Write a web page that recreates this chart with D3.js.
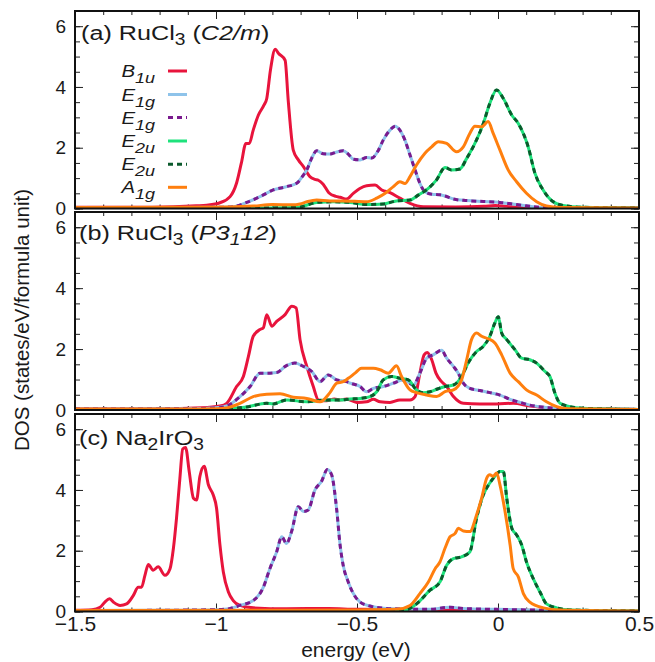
<!DOCTYPE html>
<html><head><meta charset="utf-8">
<script src="https://cdn.jsdelivr.net/npm/d3@7"></script>
<style>
body{margin:0;background:#fff}
svg{display:block}
text{font-family:"Liberation Sans",Arial,Helvetica,sans-serif;fill:#1a1a1a}
</style>
</head><body>
<svg id="chart" width="655" height="662"></svg>
<script>
// ---------------- DATA ----------------
const energyDomain = [-1.5, 0.5];
const dosDomain = [0, 6.5];
const energyTicks = [-1.5, -1, -0.5, 0, 0.5];
const energyTickLabels = ["\u22121.5", "\u22121", "\u22120.5", "0", "0.5"];
const dosTicks = [0, 2, 4, 6];
const dosTickLabels = ["0", "2", "4", "6"];
const seriesNames = ["B1u", "E1g", "E1g", "E2u", "E2u", "A1g"];

// Panel (a) RuCl3 C2/m
const a_B1u = [[-1.5,0.04],[-1.3,0.04],[-1.15,0.06],[-1.07,0.09],[-1.033,0.11],[-0.986,0.19],[-0.95,0.39],[-0.927,0.84],[-0.91,1.5],[-0.894,2.14],[-0.882,2.14],[-0.868,2.58],[-0.85,3.07],[-0.83,3.4],[-0.82,3.62],[-0.807,4.55],[-0.79,5.24],[-0.778,5.1],[-0.755,4.88],[-0.744,3.57],[-0.726,1.92],[-0.708,1.6],[-0.69,1.38],[-0.667,1.05],[-0.649,0.96],[-0.637,0.93],[-0.62,0.8],[-0.6,0.52],[-0.575,0.4],[-0.56,0.37],[-0.537,0.31],[-0.513,0.5],[-0.49,0.66],[-0.466,0.75],[-0.436,0.77],[-0.412,0.61],[-0.383,0.52],[-0.348,0.34],[-0.312,0.17],[-0.265,0.06],[-0.15,0.05],[-0.05,0.07],[-0.01,0.1],[0.03,0.07],[0.1,0.03],[0.5,0.02]];
const a_E1g = [[-1.5,0.03],[-1.2,0.03],[-1.0,0.04],[-0.939,0.06],[-0.891,0.2],[-0.844,0.39],[-0.797,0.61],[-0.749,0.72],[-0.714,0.83],[-0.69,1.1],[-0.678,1.27],[-0.661,1.65],[-0.643,1.9],[-0.62,1.8],[-0.596,1.79],[-0.572,1.86],[-0.549,1.9],[-0.531,1.79],[-0.513,1.62],[-0.489,1.6],[-0.466,1.68],[-0.448,1.66],[-0.424,1.92],[-0.407,2.25],[-0.383,2.58],[-0.365,2.71],[-0.348,2.58],[-0.33,2.25],[-0.312,1.76],[-0.294,1.27],[-0.277,0.83],[-0.259,0.55],[-0.235,0.47],[-0.206,0.45],[-0.188,0.41],[-0.158,0.31],[-0.111,0.26],[-0.052,0.23],[0.007,0.2],[0.066,0.13],[0.125,0.06],[0.184,0.03],[0.5,0.02]];
const a_E2u = [[-1.5,0.02],[-0.8,0.02],[-0.73,0.03],[-0.702,0.05],[-0.643,0.2],[-0.584,0.22],[-0.525,0.2],[-0.466,0.13],[-0.407,0.15],[-0.36,0.25],[-0.312,0.28],[-0.283,0.44],[-0.247,0.66],[-0.218,0.94],[-0.188,1.35],[-0.165,1.27],[-0.135,1.3],[-0.111,1.65],[-0.082,2.14],[-0.052,2.8],[-0.029,3.46],[-0.005,3.9],[0.019,3.62],[0.049,3.07],[0.072,2.8],[0.107,2.03],[0.131,1.16],[0.16,0.61],[0.196,0.22],[0.231,0.1],[0.3,0.04],[0.5,0.02]];
const a_A1g = [[-1.5,0.03],[-1.1,0.04],[-0.95,0.05],[-0.868,0.08],[-0.8,0.13],[-0.73,0.12],[-0.702,0.15],[-0.678,0.22],[-0.643,0.28],[-0.596,0.25],[-0.55,0.25],[-0.466,0.22],[-0.43,0.34],[-0.4,0.5],[-0.371,0.72],[-0.348,0.88],[-0.33,0.82],[-0.312,1.05],[-0.289,1.43],[-0.259,1.82],[-0.235,2.03],[-0.212,2.2],[-0.182,2.14],[-0.147,1.87],[-0.123,2.03],[-0.1,2.47],[-0.082,2.71],[-0.058,2.69],[-0.035,2.86],[-0.017,2.47],[0.007,1.92],[0.036,1.27],[0.066,0.88],[0.101,0.5],[0.137,0.22],[0.172,0.08],[0.22,0.03],[0.5,0.02]];

// Panel (b) RuCl3 P3112
const b_B1u = [[-1.5,0.04],[-1.2,0.04],[-1.05,0.07],[-0.986,0.13],[-0.962,0.22],[-0.927,0.77],[-0.903,1.1],[-0.885,1.76],[-0.868,2.42],[-0.844,2.64],[-0.832,2.7],[-0.82,3.13],[-0.802,2.75],[-0.785,2.91],[-0.755,3.13],[-0.731,3.41],[-0.716,3.35],[-0.702,2.31],[-0.678,1.43],[-0.655,0.77],[-0.637,0.33],[-0.608,0.3],[-0.58,0.36],[-0.56,0.33],[-0.537,0.36],[-0.501,0.25],[-0.466,0.27],[-0.442,0.35],[-0.418,0.27],[-0.383,0.25],[-0.348,0.33],[-0.312,0.33],[-0.294,0.44],[-0.277,1.21],[-0.262,1.81],[-0.251,1.89],[-0.235,1.65],[-0.22,1.21],[-0.2,0.93],[-0.182,0.77],[-0.158,0.44],[-0.123,0.22],[-0.064,0.2],[-0.005,0.2],[0.054,0.22],[0.113,0.13],[0.173,0.08],[0.25,0.03],[0.5,0.02]];
const b_E1g = [[-1.5,0.03],[-1.1,0.04],[-1.0,0.07],[-0.962,0.13],[-0.915,0.44],[-0.879,0.77],[-0.844,1.21],[-0.82,1.21],[-0.785,1.23],[-0.75,1.46],[-0.72,1.54],[-0.69,1.43],[-0.661,1.27],[-0.631,0.93],[-0.602,1.15],[-0.572,0.99],[-0.537,0.93],[-0.524,0.88],[-0.489,0.77],[-0.466,0.6],[-0.442,0.71],[-0.407,0.77],[-0.371,0.88],[-0.336,0.99],[-0.3,0.82],[-0.277,1.21],[-0.253,1.7],[-0.23,1.81],[-0.2,1.96],[-0.182,1.7],[-0.158,1.43],[-0.141,1.21],[-0.123,0.88],[-0.1,0.71],[-0.064,0.64],[-0.029,0.57],[0.007,0.49],[0.043,0.35],[0.078,0.25],[0.113,0.16],[0.161,0.09],[0.25,0.04],[0.5,0.02]];
const b_E2u = [[-1.5,0.02],[-1.0,0.02],[-0.94,0.05],[-0.891,0.1],[-0.82,0.22],[-0.797,0.2],[-0.75,0.33],[-0.678,0.27],[-0.608,0.33],[-0.56,0.33],[-0.525,0.36],[-0.489,0.38],[-0.454,0.44],[-0.43,0.6],[-0.407,0.99],[-0.377,1.1],[-0.348,1.04],[-0.318,0.99],[-0.289,0.66],[-0.265,0.57],[-0.241,0.6],[-0.218,0.68],[-0.188,0.77],[-0.158,0.82],[-0.129,1.1],[-0.106,1.54],[-0.076,1.92],[-0.052,2.09],[-0.029,2.42],[-0.011,2.86],[0.001,3.06],[0.013,2.53],[0.031,2.31],[0.06,1.98],[0.084,1.7],[0.113,1.65],[0.137,1.54],[0.166,1.27],[0.184,1.1],[0.202,0.55],[0.22,0.22],[0.255,0.11],[0.3,0.06],[0.5,0.02]];
const b_A1g = [[-1.5,0.03],[-1.1,0.03],[-1.0,0.04],[-0.962,0.07],[-0.915,0.22],[-0.868,0.44],[-0.82,0.52],[-0.773,0.53],[-0.726,0.42],[-0.678,0.38],[-0.631,0.27],[-0.596,0.57],[-0.572,0.88],[-0.549,0.93],[-0.531,1.04],[-0.507,1.21],[-0.484,1.37],[-0.442,1.37],[-0.418,1.32],[-0.389,1.21],[-0.36,1.45],[-0.342,1.1],[-0.312,0.66],[-0.289,0.57],[-0.253,0.49],[-0.218,0.44],[-0.188,0.6],[-0.158,0.66],[-0.129,0.99],[-0.111,1.65],[-0.094,2.31],[-0.076,2.53],[-0.058,2.42],[-0.035,2.34],[-0.011,2.2],[0.013,1.81],[0.043,1.21],[0.072,0.93],[0.101,0.66],[0.137,0.49],[0.172,0.27],[0.208,0.11],[0.25,0.04],[0.5,0.02]];

// Panel (c) Na2IrO3
const c_B1u = [[-1.5,0.04],[-1.44,0.06],[-1.411,0.14],[-1.394,0.31],[-1.378,0.42],[-1.364,0.31],[-1.34,0.2],[-1.317,0.25],[-1.293,0.53],[-1.276,0.8],[-1.264,0.8],[-1.252,1.19],[-1.24,1.55],[-1.223,1.36],[-1.205,1.47],[-1.181,1.19],[-1.163,1.41],[-1.151,2.08],[-1.14,3.07],[-1.128,4.39],[-1.118,5.35],[-1.108,5.4],[-1.095,4.61],[-1.08,3.73],[-1.069,3.67],[-1.057,4.45],[-1.042,4.78],[-1.027,4.17],[-1.01,3.84],[-0.998,3.4],[-0.986,2.19],[-0.974,1.3],[-0.956,0.64],[-0.939,0.36],[-0.915,0.2],[-0.868,0.12],[-0.75,0.09],[-0.6,0.1],[-0.5,0.07],[-0.2,0.06],[0,0.05],[0.2,0.03],[0.5,0.02]];
const c_E1g = [[-1.5,0.03],[-1.2,0.04],[-1.0,0.06],[-0.962,0.08],[-0.915,0.2],[-0.868,0.36],[-0.832,0.8],[-0.809,1.41],[-0.785,1.96],[-0.767,2.46],[-0.75,2.24],[-0.732,2.63],[-0.708,3.45],[-0.69,3.29],[-0.673,3.34],[-0.649,4.0],[-0.626,4.28],[-0.605,4.67],[-0.59,4.5],[-0.572,3.35],[-0.56,2.19],[-0.549,1.52],[-0.531,0.97],[-0.513,0.59],[-0.489,0.31],[-0.454,0.18],[-0.407,0.11],[-0.336,0.08],[-0.241,0.07],[-0.17,0.14],[-0.123,0.1],[-0.005,0.07],[0.113,0.05],[0.25,0.03],[0.5,0.02]];
const c_E2u = [[-1.5,0.02],[-0.5,0.03],[-0.36,0.04],[-0.33,0.05],[-0.289,0.25],[-0.241,0.7],[-0.206,0.97],[-0.182,1.52],[-0.158,1.74],[-0.129,1.8],[-0.1,1.96],[-0.076,3.07],[-0.052,3.84],[-0.029,4.23],[-0.011,4.45],[0.007,4.61],[0.019,4.61],[0.031,3.73],[0.049,2.74],[0.066,2.52],[0.084,2.19],[0.101,1.63],[0.125,1.08],[0.149,0.64],[0.172,0.25],[0.208,0.12],[0.26,0.05],[0.5,0.02]];
const c_A1g = [[-1.5,0.03],[-0.8,0.04],[-0.5,0.05],[-0.36,0.07],[-0.312,0.2],[-0.277,0.59],[-0.247,0.97],[-0.223,1.41],[-0.206,1.63],[-0.188,2.08],[-0.17,2.46],[-0.152,2.57],[-0.141,2.74],[-0.123,2.65],[-0.1,2.63],[-0.076,3.18],[-0.058,3.73],[-0.04,4.39],[-0.029,4.5],[-0.017,4.45],[-0.005,4.56],[0.007,4.17],[0.025,3.29],[0.043,2.19],[0.054,1.41],[0.072,1.14],[0.09,0.59],[0.113,0.31],[0.161,0.12],[0.22,0.05],[0.5,0.02]];

// ---------------- LAYOUT / STYLE ----------------
const left = 75, right = 639;
const panelBoxes = [
  {top: 11, bottom: 208.5},
  {top: 212, bottom: 410},
  {top: 414, bottom: 611.5}
];
const panelData = [
  {B1u: a_B1u, E1g: a_E1g, E2u: a_E2u, A1g: a_A1g},
  {B1u: b_B1u, E1g: b_E1g, E2u: b_E2u, A1g: b_A1g},
  {B1u: c_B1u, E1g: c_E1g, E2u: c_E2u, A1g: c_A1g}
];
const styles = [
  {key: "B1u", color: "#e8143c", dash: null, sub: "1u", base: "B"},
  {key: "E1g", color: "#8ec3ea", dash: null, sub: "1g", base: "E"},
  {key: "E1g", color: "#7a1a8e", dash: "5,4", sub: "1g", base: "E"},
  {key: "E2u", color: "#1ee27c", dash: null, sub: "2u", base: "E"},
  {key: "E2u", color: "#0b5a2c", dash: "5,4", sub: "2u", base: "E"},
  {key: "A1g", color: "#ff7f0e", dash: null, sub: "1g", base: "A"}
];
const textStretch = 1.2;

const svg = d3.select("#chart");
const x = d3.scaleLinear().domain(energyDomain).range([left, right]);
const minorX = d3.range(-15, 6).map(d => d / 10);
const minorY = d3.range(0, 14).map(d => d / 2);

panelBoxes.forEach((box, i) => {
  const y = d3.scaleLinear().domain(dosDomain).range([box.bottom, box.top]);
  const g = svg.append("g");
  const clipId = "clip" + i;
  svg.append("clipPath").attr("id", clipId).append("rect")
    .attr("x", left).attr("y", box.top).attr("width", right - left).attr("height", box.bottom - box.top);

  const addAxis = (axis, transform, showLabels) => {
    const ag = g.append("g").attr("transform", transform).call(axis);
    ag.select(".domain").remove();
    ag.selectAll("line").attr("stroke", "#222").attr("stroke-width", 1);
    if (!showLabels) ag.selectAll("text").remove();
    return ag;
  };
  const isBottom = i === panelBoxes.length - 1;
  addAxis(d3.axisBottom(x).tickValues(minorX).tickSize(-4).tickFormat(""), `translate(0,${box.bottom})`, false);
  const xb = addAxis(d3.axisBottom(x).tickValues(energyTicks).tickSize(-8)
      .tickFormat((d, k) => energyTickLabels[k]).tickPadding(5), `translate(0,${box.bottom})`, isBottom);
  xb.selectAll("text").attr("font-size", 21).attr("fill", "#1a1a1a");
  addAxis(d3.axisTop(x).tickValues(minorX).tickSize(-4).tickFormat(""), `translate(0,${box.top})`, false);
  addAxis(d3.axisTop(x).tickValues(energyTicks).tickSize(-8).tickFormat(""), `translate(0,${box.top})`, false);
  addAxis(d3.axisLeft(y).tickValues(minorY).tickSize(-5).tickFormat(""), `translate(${left},0)`, false);
  const yl = addAxis(d3.axisLeft(y).tickValues(dosTicks).tickSize(-8)
      .tickFormat((d, k) => dosTickLabels[k]).tickPadding(9), `translate(${left},0)`, true);
  yl.selectAll("text").attr("font-size", 19).attr("fill", "#1a1a1a");
  addAxis(d3.axisRight(y).tickValues(minorY).tickSize(-5).tickFormat(""), `translate(${right},0)`, false);
  addAxis(d3.axisRight(y).tickValues(dosTicks).tickSize(-8).tickFormat(""), `translate(${right},0)`, false);

  const line = d3.line().x(d => x(d[0])).y(d => y(d[1])).curve(d3.curveMonotoneX);
  const cg = g.append("g").attr("clip-path", `url(#${clipId})`);
  styles.forEach(s => {
    cg.append("path").datum(panelData[i][s.key])
      .attr("d", line).attr("fill", "none")
      .attr("stroke", s.color).attr("stroke-width", 3)
      .attr("stroke-linejoin", "round")
      .attr("stroke-dasharray", s.dash);
  });

  g.append("rect").attr("x", left).attr("y", box.top)
    .attr("width", right - left).attr("height", box.bottom - box.top)
    .attr("fill", "none").attr("stroke", "#111").attr("stroke-width", 2);
});

// panel titles
function title(xPos, yPos, parts) {
  const t = svg.append("g").attr("transform", `translate(${xPos},${yPos}) scale(${textStretch},1)`)
    .append("text").attr("x", 0).attr("y", 0).attr("font-size", 21);
  let shift = 0;
  parts.forEach(p => {
    const ts = t.append("tspan").text(p.t);
    const target = p.sub ? 5 : 0;
    if (target !== shift) { ts.attr("dy", target - shift); shift = target; }
    if (p.sub) ts.attr("font-size", 16);
    if (p.it) ts.attr("font-style", "italic");
  });
}
title(81, 40, [{t: "(a) RuCl"}, {t: "3", sub: 1}, {t: " ("}, {t: "C2/m", it: 1}, {t: ")"}]);
title(79, 240, [{t: "(b) RuCl"}, {t: "3", sub: 1}, {t: " ("}, {t: "P3", it: 1}, {t: "1", it: 1, sub: 1}, {t: "12", it: 1}, {t: ")"}]);
title(79, 445, [{t: "(c) Na"}, {t: "2", sub: 1}, {t: "IrO"}, {t: "3", sub: 1}]);

// legend
const legendY = [71, 94.5, 117.5, 141, 164.2, 187.3];
styles.forEach((s, k) => {
  const ly = legendY[k];
  const t = svg.append("g").attr("transform", `translate(155,${ly + 6}) scale(${textStretch},1)`)
    .append("text").attr("text-anchor", "end")
    .attr("font-size", 17).attr("font-style", "italic");
  t.append("tspan").text(s.base);
  t.append("tspan").text(s.sub).attr("font-size", 15).attr("dy", 6);
  svg.append("line").attr("x1", 168).attr("x2", 187).attr("y1", ly).attr("y2", ly)
    .attr("stroke", s.color).attr("stroke-width", 3).attr("stroke-dasharray", s.dash);
});

// axis titles
svg.append("text").attr("x", 356).attr("y", 657).attr("text-anchor", "middle")
  .attr("font-size", 21).text("energy (eV)");
svg.append("text").attr("transform", "translate(28.5,320) rotate(-90)").attr("text-anchor", "middle")
  .attr("font-size", 20.5).text("DOS (states/eV/formula unit)");
</script>
</body></html>
